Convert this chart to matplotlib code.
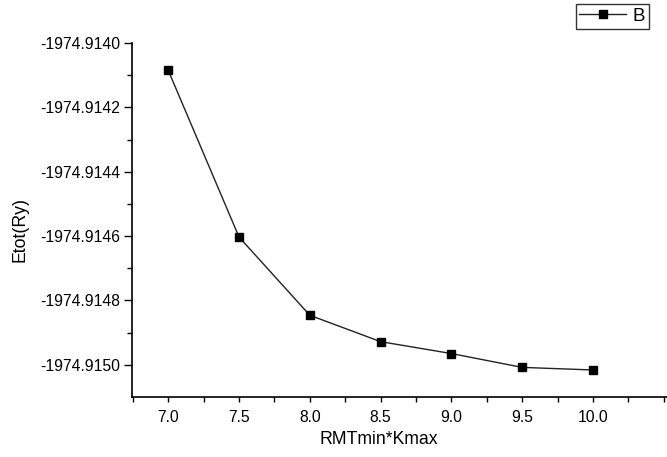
import matplotlib
matplotlib.use("Agg")
import matplotlib.pyplot as plt
from matplotlib.ticker import FixedLocator, MultipleLocator, FormatStrFormatter

plt.rcParams['font.family'] = ['Liberation Sans', 'DejaVu Sans']

x_vals = [7.0, 7.5, 8.0, 8.5, 9.0, 9.5, 10.0]
etot = [-1974.914085, -1974.914603, -1974.914846, -1974.914928,
        -1974.914965, -1974.915008, -1974.915016]
y_ticks = [-1974.9150, -1974.9148, -1974.9146, -1974.9144, -1974.9142, -1974.9140]
x_ticks = [7.0, 7.5, 8.0, 8.5, 9.0, 9.5, 10.0]
series_label = "B"
x_label = "RMTmin*Kmax"
y_label = "Etot(Ry)"

fig = plt.figure(figsize=(6.67, 4.57), dpi=100)
ax = fig.add_axes([132/667, 60/457, 1 - 132/667, 354/457])

ax.plot(x_vals, etot, color='#222222', lw=1.0, marker='s', markersize=5.5,
        markerfacecolor='black', markeredgecolor='black', label=series_label)

ax.set_xlim(6.744, 10.523)
ax.set_ylim(-1974.9151, -1974.9140)

ax.xaxis.set_major_locator(FixedLocator(x_ticks))
ax.xaxis.set_minor_locator(MultipleLocator(0.25))
ax.xaxis.set_major_formatter(FormatStrFormatter('%.1f'))
ax.yaxis.set_major_locator(FixedLocator(y_ticks))
ax.yaxis.set_minor_locator(FixedLocator([v + 0.0001 for v in y_ticks[:-1]]))
ax.yaxis.set_major_formatter(FormatStrFormatter('%.4f'))

for s in ['top', 'right']:
    ax.spines[s].set_visible(False)
for s in ['left', 'bottom']:
    ax.spines[s].set_linewidth(1.2)

ax.tick_params(axis='both', which='major', direction='out', length=5.5, width=1.0,
               labelsize=11.3, pad=3)
ax.tick_params(axis='both', which='minor', direction='out', length=3.5, width=1.0)
ax.tick_params(axis='x', which='major', length=3.5, pad=6)

fig.text(379/667, 1 - 440/457, x_label, fontsize=12.7, ha='center', va='center')
fig.text(20/667, 1 - 229/457, y_label, fontsize=12.7, ha='center', va='center',
         rotation=90)

leg = ax.legend(loc='upper right', bbox_to_anchor=(649/667, 1 - 4/457),
                bbox_transform=fig.transFigure, frameon=True, fancybox=False,
                fontsize=13.5, handlelength=2.5, borderpad=0.2, handletextpad=0.35,
                borderaxespad=0)
leg.get_frame().set_edgecolor('black')
leg.get_frame().set_linewidth(1.0)

fig.savefig("out.png", dpi=100)
